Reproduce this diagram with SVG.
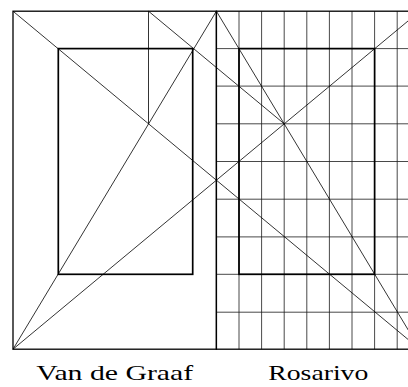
<svg xmlns="http://www.w3.org/2000/svg" width="408" height="387" viewBox="0 0 408 387">
  <style>
    .page { fill: none; stroke: #000; stroke-width: 1.3; }
    .block { fill: none; stroke: #000; stroke-width: 1.7; }
    .grid { fill: none; stroke: #1a1a1a; stroke-width: 0.8; }
    .thin { fill: none; stroke: #000; stroke-width: 0.8; }
    .label { font-family: "Liberation Serif", "DejaVu Serif", serif; font-size: 22px; fill: #000; text-anchor: middle; }
  </style>
  <rect width="408" height="387" fill="#fff"/>
  <g id="rosarivo-grid" class="grid">
    <line x1="239" y1="11.2" x2="239" y2="349.2"/>
    <line x1="261.6" y1="11.2" x2="261.6" y2="349.2"/>
    <line x1="284.2" y1="11.2" x2="284.2" y2="349.2"/>
    <line x1="306.8" y1="11.2" x2="306.8" y2="349.2"/>
    <line x1="329.4" y1="11.2" x2="329.4" y2="349.2"/>
    <line x1="352" y1="11.2" x2="352" y2="349.2"/>
    <line x1="374.6" y1="11.2" x2="374.6" y2="349.2"/>
    <line x1="397.2" y1="11.2" x2="397.2" y2="349.2"/>
    <line x1="216.4" y1="48.6" x2="419.8" y2="48.6"/>
    <line x1="216.4" y1="86.1" x2="419.8" y2="86.1"/>
    <line x1="216.4" y1="123.8" x2="419.8" y2="123.8"/>
    <line x1="216.4" y1="161.5" x2="419.8" y2="161.5"/>
    <line x1="216.4" y1="199.2" x2="419.8" y2="199.2"/>
    <line x1="216.4" y1="236.9" x2="419.8" y2="236.9"/>
    <line x1="216.4" y1="274.3" x2="419.8" y2="274.3"/>
    <line x1="216.4" y1="312.2" x2="419.8" y2="312.2"/>
  </g>
  <g id="connectors" class="thin">
    <line x1="13" y1="11.2" x2="419.8" y2="349.2"/>
    <line x1="13" y1="349.2" x2="419.8" y2="11.2"/>
    <line x1="13" y1="349.2" x2="216.4" y2="11.2"/>
    <line x1="216.4" y1="11.2" x2="419.8" y2="349.2"/>
    <line x1="148.5" y1="11.2" x2="148.5" y2="123.8"/>
    <line x1="148.5" y1="11.2" x2="284.2" y2="123.8"/>
  </g>
  <g id="left-page">
    <rect class="page" x="13" y="11.2" width="203.4" height="338"/>
    <rect id="left-text-block" class="block" x="58.3" y="48.6" width="134.4" height="225.7"/>
  </g>
  <g id="right-page">
    <rect class="page" x="216.4" y="11.2" width="203.4" height="338"/>
    <rect id="right-text-block" class="block" x="239" y="48.6" width="135.6" height="225.7"/>
  </g>
  <g id="label-van-de-graaf">
    <text class="label" x="114.7" y="380" textLength="157" lengthAdjust="spacingAndGlyphs">Van de Graaf</text>
  </g>
  <g id="label-rosarivo">
    <text class="label" x="318.3" y="380" textLength="100" lengthAdjust="spacingAndGlyphs">Rosarivo</text>
  </g>
</svg>
